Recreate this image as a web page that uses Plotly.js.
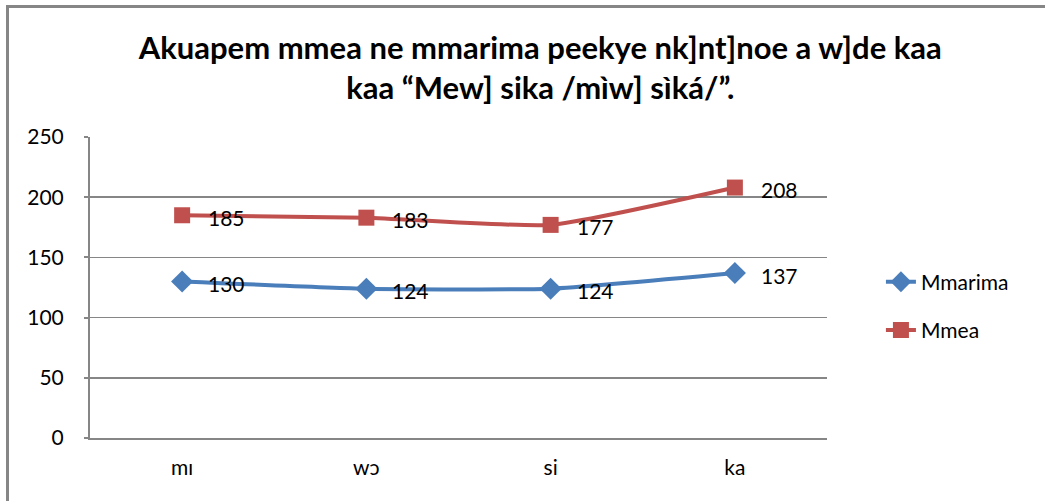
<!DOCTYPE html>
<html><head><meta charset="utf-8">
<script src="https://cdn.plot.ly/plotly-3.0.1.min.js"></script>
<style>
html,body{margin:0;padding:0;background:#fff;}
#frame{position:absolute;left:6px;top:5px;width:1045px;height:501px;border-left:3px solid #868686;border-top:3px solid #868686;pointer-events:none;z-index:5;}
#chart{position:absolute;left:0;top:0;width:1045px;height:501px;}
</style></head>
<body>
<div id="chart"></div>
<div id="frame"></div>
<script>
const categories = ["mɪ", "wɔ", "si", "ka"];
const mmarima = [130, 124, 124, 137];
const mmea = [185, 183, 177, 208];
const yTicks = [0, 50, 100, 150, 200, 250];
const titleText = "Akuapem mmea ne mmarima peekye nk]nt]noe a w]de kaa<br>kaa “Mew] sika /mɪ̀w] sìká/”.";

const FONT = "Lato, 'Open Sans', sans-serif";

const traces = [
  {
    x: categories, y: mmarima, name: "Mmarima", type: "scatter",
    mode: "lines+markers", legendgroup: "a",
    line: {color: "#4A7EBB", width: 4, shape: "spline", smoothing: 0.5},
    marker: {symbol: "diamond", size: 17, color: "#4A7EBB"}
  },
  {
    x: categories, y: mmea, name: "Mmea", type: "scatter",
    mode: "lines+markers", legendgroup: "b",
    line: {color: "#C0504D", width: 4, shape: "spline", smoothing: 0.5},
    marker: {symbol: "square", size: 16, color: "#C0504D"}
  }
];

const annotations = [];
[mmarima, mmea].forEach(series => {
  series.forEach((v, i) => {
    annotations.push({
      x: categories[i], y: v, xref: "x", yref: "y",
      text: String(v), showarrow: false,
      xanchor: "left", yanchor: "middle",
      xshift: 24, yshift: -2,
      font: {size: 21, family: FONT, color: "#000"}
    });
  });
});

const layout = {
  width: 1045, height: 501,
  margin: {l: 90, r: 218, t: 137, b: 63},
  paper_bgcolor: "#fff", plot_bgcolor: "#fff",
  font: {family: FONT, size: 21, color: "#000"},
  title: {
    text: titleText,
    font: {family: FONT, size: 31, color: "#000", weight: "bold"},
    xref: "container", yref: "container",
    x: 0.517, xanchor: "center", y: 0.882, yanchor: "middle"
  },
  annotations: annotations,
  xaxis: {
    type: "category", range: [-0.5, 3.5],
    showgrid: false, zeroline: false,
    showline: true, linecolor: "#868686", linewidth: 2,
    ticks: "", ticklabelstandoff: 10,
    tickfont: {size: 21, family: FONT}
  },
  yaxis: {
    range: [0, 250], tickvals: yTicks,
    showgrid: true, gridcolor: "#868686", gridwidth: 1.5,
    zeroline: false,
    showline: true, linecolor: "#868686", linewidth: 2,
    ticks: "outside", ticklen: 4, tickcolor: "#868686", tickwidth: 2,
    ticklabelstandoff: 16,
    tickfont: {size: 21, family: FONT}
  },
  legend: {
    x: 0.843, xref: "container", y: 0.389, yref: "container",
    xanchor: "left", yanchor: "middle",
    font: {size: 21, family: FONT},
    tracegroupgap: 18,
    bgcolor: "rgba(0,0,0,0)"
  },
  showlegend: true
};

Plotly.newPlot("chart", traces, layout, {displayModeBar: false, staticPlot: true});
</script>
</body></html>
